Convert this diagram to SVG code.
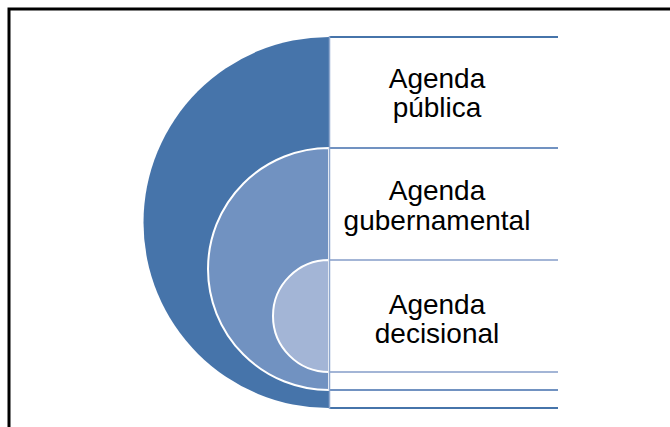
<svg xmlns="http://www.w3.org/2000/svg" width="670" height="427" viewBox="0 0 670 427">
<style>
.lbl{font-family:"Liberation Sans",Arial,sans-serif;font-size:28px;fill:#000;text-anchor:middle}
.ln{stroke-width:2;fill:none}
.d{fill:#4674AA}.m{fill:#7192C1}.l{fill:#A3B5D6}
.sd{stroke:#4674AA}.sm{stroke:#7192C1}.sl{stroke:#A3B5D6}
</style>
<rect x="0" y="0" width="670" height="427" fill="#fff"/>
<rect x="9" y="9" width="680" height="440" fill="none" stroke="#000" stroke-width="3"/>
<g id="level1">
<path class="d" d="M329,37 A185.5,185.5 0 0 0 329,408 Z"/>
</g>
<g id="level2">
<path class="m" d="M329,148 A121,121 0 0 0 329,390 Z" stroke="#fff" stroke-width="2"/>
</g>
<g id="level3">
<path class="l" d="M329,260 A56,56 0 0 0 329,372 Z" stroke="#fff" stroke-width="2"/>
</g>
<g id="connectors">
<line class="ln sd" x1="329" y1="37" x2="558" y2="37"/>
<line class="ln sm" x1="329" y1="148" x2="558" y2="148"/>
<line class="ln sl" x1="329" y1="260" x2="558" y2="260"/>
<line class="ln sl" x1="329" y1="372" x2="558" y2="372"/>
<line class="ln sm" x1="329" y1="390" x2="558" y2="390"/>
<line class="ln sd" x1="329" y1="408" x2="558" y2="408"/>
<line x1="329.5" y1="36" x2="329.5" y2="409" stroke="#8FA8CE" stroke-width="1.5"/>
</g>
<g id="label1">
<text class="lbl" x="437" y="87.5">Agenda<tspan x="437" dy="29.5">pública</tspan></text>
</g>
<g id="label2">
<text class="lbl" x="437" y="200">Agenda<tspan x="437" dy="29.5">gubernamental</tspan></text>
</g>
<g id="label3">
<text class="lbl" x="437" y="314">Agenda<tspan x="437" dy="29">decisional</tspan></text>
</g>
</svg>
